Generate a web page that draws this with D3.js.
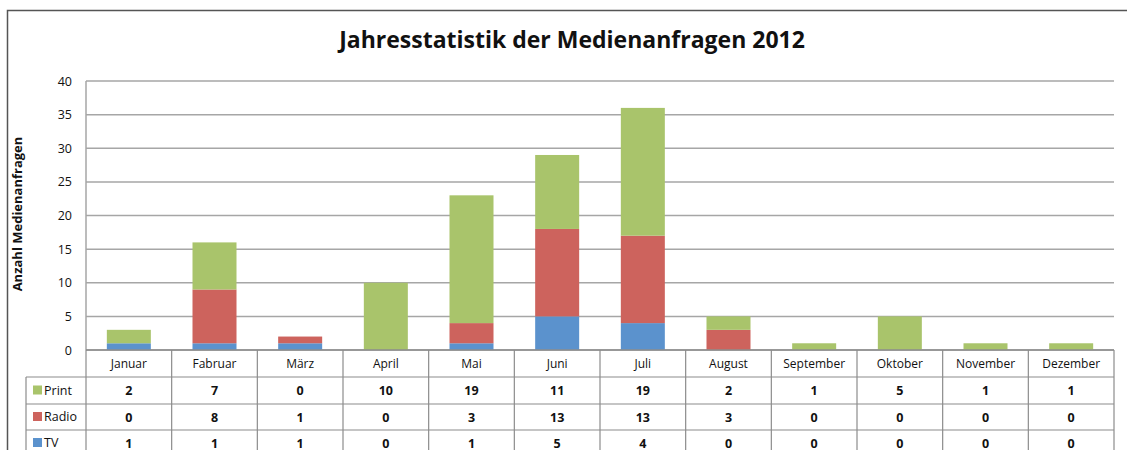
<!DOCTYPE html>
<html>
<head>
<meta charset="utf-8">
<script src="https://cdn.jsdelivr.net/npm/d3@7"></script>
<style>
  body { margin: 0; background: #fff; }
  svg text { font-family: "Open Sans", "DejaVu Sans", sans-serif; fill: #111; }
</style>
</head>
<body>
<div id="chart"></div>
<script>
// data
const months = ["Januar", "Fabruar", "März", "April", "Mai", "Juni", "Juli", "August", "September", "Oktober", "November", "Dezember"];
const print = [2, 7, 0, 10, 19, 11, 19, 2, 1, 5, 1, 1];
const radio = [0, 8, 1, 0, 3, 13, 13, 3, 0, 0, 0, 0];
const tv = [1, 1, 1, 0, 1, 5, 4, 0, 0, 0, 0, 0];
const yTicks = [0, 5, 10, 15, 20, 25, 30, 35, 40];

const width = 1127, height = 450;
const margin = { top: 81, right: 13, bottom: 100, left: 86 };
const rowH = [27, 27, 26, 26]; // header + series rows

const series = [
  { key: "TV", values: tv, color: "#5b92cd" },
  { key: "Radio", values: radio, color: "#cd635d" },
  { key: "Print", values: print, color: "#a9c46b" }
];

const svg = d3.select("#chart").append("svg")
  .attr("width", width)
  .attr("height", height);

// outer frame
svg.append("path")
  .attr("d", `M7.5,${height} V10.5 H${width}`)
  .attr("fill", "none")
  .attr("stroke", "#555")
  .attr("stroke-width", 1.5);

svg.append("text")
  .attr("x", 572)
  .attr("y", 48)
  .attr("text-anchor", "middle")
  .style("font-size", "23px")
  .style("font-weight", "bold")
  .text("Jahresstatistik der Medienanfragen 2012");

const x = d3.scaleBand()
  .domain(months)
  .range([margin.left, width - margin.right])
  .paddingInner(0)
  .paddingOuter(0);

const y = d3.scaleLinear()
  .domain([0, 40])
  .range([350, margin.top]);

// gridlines
svg.append("g")
  .selectAll("line")
  .data(yTicks)
  .join("line")
  .attr("x1", margin.left)
  .attr("x2", width - margin.right)
  .attr("y1", d => y(d))
  .attr("y2", d => y(d))
  .attr("stroke", "#a6a6a6")
  .attr("stroke-width", 1.5);

svg.append("line")
  .attr("x1", margin.left).attr("x2", margin.left)
  .attr("y1", y(40)).attr("y2", y(0))
  .attr("stroke", "#a6a6a6").attr("stroke-width", 1.5);

// y axis labels
const yAxis = svg.append("g")
  .attr("transform", `translate(${margin.left - 14},0)`)
  .call(d3.axisLeft(y).tickValues(yTicks).tickSize(0).tickPadding(0));
yAxis.select(".domain").remove();
yAxis.selectAll("text")
  .style("font-size", "12.5px")
  .style("font-family", "'Open Sans', sans-serif")
  .attr("fill", "#111");

svg.append("text")
  .attr("transform", "translate(22,214) rotate(-90)")
  .attr("text-anchor", "middle")
  .style("font-size", "13px")
  .style("font-weight", "bold")
  .text("Anzahl Medienanfragen");

// stacked bars
const stackData = months.map((m, i) => ({ month: m, TV: tv[i], Radio: radio[i], Print: print[i] }));
const stacked = d3.stack().keys(series.map(s => s.key))(stackData);
const barW = 44;

svg.append("g")
  .selectAll("g")
  .data(stacked)
  .join("g")
  .attr("fill", (d, i) => series[i].color)
  .selectAll("rect")
  .data(d => d.filter(p => p[1] > p[0]))
  .join("rect")
  .attr("x", d => x(d.data.month) + x.bandwidth() / 2 - barW / 2)
  .attr("width", barW)
  .attr("y", d => y(d[1]))
  .attr("height", d => y(d[0]) - y(d[1]));

// data table
const tableTop = y(0);
const tableLeft = 26;
const rowsY = [tableTop];
rowH.forEach((h, i) => rowsY.push(rowsY[i] + h));
const lineColor = "#8c8c8c";
const table = svg.append("g");

// horizontal lines
table.selectAll("line.h")
  .data(rowsY.slice(1))
  .join("line")
  .attr("class", "h")
  .attr("x1", tableLeft)
  .attr("x2", width - margin.right)
  .attr("y1", d => d)
  .attr("y2", d => d)
  .attr("stroke", lineColor)
  .attr("stroke-width", 1.2);

table.append("line")
  .attr("x1", margin.left).attr("x2", width - margin.right)
  .attr("y1", tableTop).attr("y2", tableTop)
  .attr("stroke", lineColor).attr("stroke-width", 1.5);

// vertical lines
const vx = months.map(m => x(m)).concat([width - margin.right]);
table.selectAll("line.v")
  .data(vx)
  .join("line")
  .attr("class", "v")
  .attr("x1", d => d)
  .attr("x2", d => d)
  .attr("y1", tableTop)
  .attr("y2", height)
  .attr("stroke", lineColor)
  .attr("stroke-width", 1.2);

table.append("line")
  .attr("x1", tableLeft).attr("x2", tableLeft)
  .attr("y1", rowsY[1]).attr("y2", height)
  .attr("stroke", lineColor).attr("stroke-width", 1.2);

// month headers
table.selectAll("text.month")
  .data(months)
  .join("text")
  .attr("class", "month")
  .attr("x", d => x(d) + x.bandwidth() / 2)
  .attr("y", rowsY[0] + rowH[0] / 2 + 4)
  .attr("text-anchor", "middle")
  .style("font-size", "12px")
  .text(d => d);

// series rows (Print, Radio, TV)
const rowSeries = [series[2], series[1], series[0]];
rowSeries.forEach((s, r) => {
  const cy = rowsY[r + 1] + rowH[r + 1] / 2;
  table.append("rect")
    .attr("x", 33)
    .attr("y", cy - 5)
    .attr("width", 9)
    .attr("height", 9)
    .attr("fill", s.color);
  table.append("text")
    .attr("x", 44)
    .attr("y", cy + 4)
    .style("font-size", "12.5px")
    .text(s.key);
  table.selectAll(null)
    .data(s.values)
    .join("text")
    .attr("x", (d, i) => x(months[i]) + x.bandwidth() / 2)
    .attr("y", cy + 4.5)
    .attr("text-anchor", "middle")
    .style("font-size", "12.5px")
    .style("font-weight", "bold")
    .text(d => d);
});
</script>
</body>
</html>
